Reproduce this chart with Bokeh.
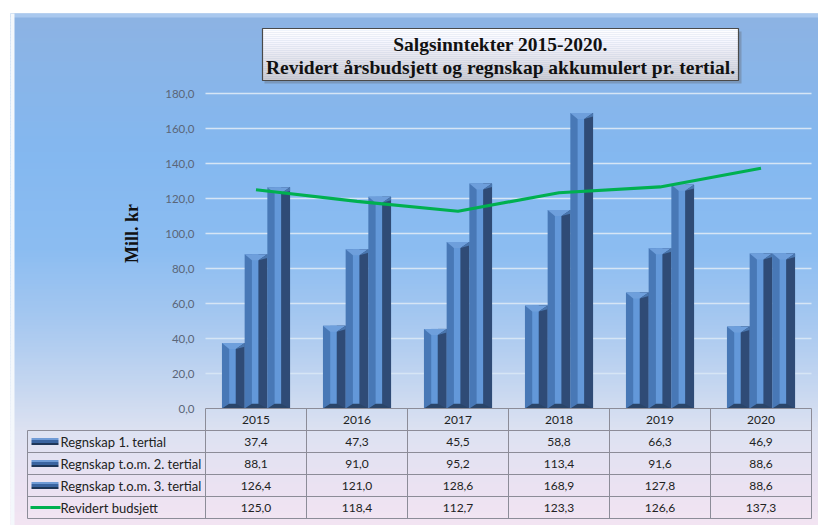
import numpy as np
from bokeh.plotting import figure
from bokeh.models import Range1d
from bokeh.core.properties import value
from bokeh.embed import file_html
from bokeh.resources import INLINE

# ---------------- data ----------------
years = ["2015", "2016", "2017", "2018", "2019", "2020"]
regnskap_t1 = [37.4, 47.3, 45.5, 58.8, 66.3, 46.9]
regnskap_t2 = [88.1, 91.0, 95.2, 113.4, 91.6, 88.6]
regnskap_t3 = [126.4, 121.0, 128.6, 168.9, 127.8, 88.6]
revidert_budsjett = [125.0, 118.4, 112.7, 123.3, 126.6, 137.3]
series_names = ["Regnskap 1. tertial", "Regnskap t.o.m. 2. tertial",
                "Regnskap t.o.m. 3. tertial", "Revidert budsjett"]
y_ticks = [0, 20, 40, 60, 80, 100, 120, 140, 160, 180]
title_lines = ["Salgsinntekter 2015-2020.",
               "Revidert årsbudsjett og regnskap akkumulert pr. tertial."]
y_label = "Mill. kr"

# ---------------- layout helpers (canvas px -> data) ----------------
W, H = 818, 525
COL = 101.0     # px per category column
X0PX = 205      # canvas px of first column's left edge
PXU = 1.75      # px per y unit
Y0PX = 408      # canvas px of y = 0


def X(px):
    return (px - X0PX) / COL


def Y(py):
    return (Y0PX - py) / PXU


def fmt(v):
    return f"{v:.1f}".replace(".", ",")


n = len(years)
RH = 22.0 / PXU          # table row height in y units

p = figure(width=W, height=H, x_range=Range1d(X(0), X(W)),
           y_range=Range1d(Y(H), Y(0)), toolbar_location=None,
           output_backend="svg", min_border=0,
           x_axis_location=None, y_axis_location=None)
p.grid.visible = False
p.outline_line_color = None
p.background_fill_color = "white"
p.border_fill_color = "white"

# ---------------- background gradient ----------------
stops_y = [13, 60, 150, 250, 320, 390, 430, 480, 525]
stops_c = [(141, 179, 227), (138, 181, 232), (132, 184, 240), (140, 189, 242),
           (166, 200, 240), (200, 216, 240), (221, 226, 242), (234, 226, 242),
           (243, 229, 243)]
edges = np.arange(13, 527, 3)
bt, bb, bc = [], [], []
for a, b in zip(edges[:-1], edges[1:]):
    m = (a + b) / 2
    rgb = [int(np.interp(m, stops_y, [c[k] for c in stops_c])) for k in range(3)]
    bt.append(Y(a))
    bb.append(Y(b + 0.6))
    bc.append("#%02x%02x%02x" % tuple(rgb))
p.quad(left=X(10), right=X(W + 2), top=bt, bottom=bb, fill_color=bc, line_color=None)
# bevel edges of chart frame
p.quad(left=X(10), right=X(W + 2), top=Y(13), bottom=Y(17), fill_color="#a9c8ee", line_color=None)
p.quad(left=X(10), right=X(14), top=Y(13), bottom=Y(H), fill_color="#f4f8fc", line_color=None)

# ---------------- gridlines ----------------
grid_ticks = [t for t in y_ticks if t > 0]
p.segment(x0=0, x1=n, y0=grid_ticks, y1=grid_ticks, line_color="#d6e5f5", line_width=1.6)

# ---------------- y tick labels + axis title ----------------
p.text(x=X(194), y=y_ticks, text=[fmt(t) for t in y_ticks], text_align="right",
       text_baseline="middle", text_font=value("Lato"), text_font_size=value("11.5px"),
       text_color="#5a6678")
p.text(x=X(131), y=Y(233), text=[y_label], angle=np.pi / 2, text_align="center",
       text_baseline="middle", text_font=value("Liberation Serif"),
       text_font_size=value("18px"), text_font_style="bold", text_color="#111111")

# ---------------- 3D bars ----------------
BW = 22.7 / COL
D = 6 / PXU
for k, vals in enumerate([regnskap_t1, regnskap_t2, regnskap_t3]):
    xc = [i + 0.5 + (k - 1) * BW for i in range(n)]
    x0 = [c - BW / 2 for c in xc]
    p.vbar(x=xc, top=vals, bottom=0, width=BW, fill_color="#4878b6", line_color=None)
    p.vbar(x=[a + 0.465 * BW for a in x0], top=vals, bottom=0, width=0.29 * BW,
           fill_color="#6398d9", line_color=None)
    p.vbar(x=[a + 0.805 * BW for a in x0], top=vals, bottom=0, width=0.39 * BW,
           fill_color="#2f4b76", line_color=None)
    # top bevel
    xs_top = [[a, a + BW, a + 0.61 * BW, a + 0.32 * BW] for a in x0]
    ys_top = [[v, v, v - D, v - D] for v in vals]
    p.patches(xs=xs_top, ys=ys_top, fill_color="#6e9fdc", line_color=None)
    xs_r = [[a + BW, a + BW, a + 0.61 * BW] for a in x0]
    ys_r = [[v, v - D * 0.6, v - D] for v in vals]
    p.patches(xs=xs_r, ys=ys_r, fill_color="#4a77b0", line_color=None)
    # bottom base
    xs_b = [[a, a + BW, a + 0.61 * BW, a + 0.32 * BW] for a in x0]
    ys_b = [[0, 0, D * 0.8, D * 0.8] for _ in vals]
    p.patches(xs=xs_b, ys=ys_b, fill_color="#2a4569", line_color=None)

# ---------------- budget line ----------------
p.line(x=[i + 0.5 for i in range(n)], y=revidert_budsjett, line_color="#00b050",
       line_width=3.2)

# ---------------- title box ----------------
tb_l, tb_r, tb_t, tb_b = X(262), X(738), Y(28), Y(80)
p.quad(left=X(264), right=X(741), top=Y(31), bottom=Y(83), fill_color="#6f7f98",
       fill_alpha=0.55, line_color=None)
tedges = np.linspace(28, 80, 27)
tt, tbm, tc = [], [], []
for a, b in zip(tedges[:-1], tedges[1:]):
    f = ((a + b) / 2 - 28) / 52
    g = int(255 - 52 * f ** 1.3)
    tt.append(Y(a))
    tbm.append(Y(b + 0.3))
    tc.append("#%02x%02x%02x" % (g, g, min(255, g + 8)))
p.quad(left=tb_l, right=tb_r, top=tt, bottom=tbm, fill_color=tc, line_color=None)
p.quad(left=tb_l, right=tb_r, top=tb_t, bottom=tb_b, fill_color=None,
       line_color="#4a4a4a", line_width=1.2)
p.text(x=X(500), y=[Y(44), Y(67)], text=title_lines, text_align="center",
       text_baseline="middle", text_font=value("Liberation Serif"),
       text_font_size=value("19.5px"), text_font_style="bold", text_color="#111111")

# ---------------- data table ----------------
XL = X(27)
rows_y = [-(r * RH) for r in range(6)]
hx0 = [0] + [XL] * 5
p.segment(x0=hx0, x1=n, y0=rows_y, y1=rows_y, line_color="#8c8c98", line_width=1)
p.segment(x0=list(range(n + 1)), x1=list(range(n + 1)), y0=0, y1=-5 * RH,
          line_color="#8c8c98", line_width=1)
p.segment(x0=XL, x1=XL, y0=-RH, y1=-5 * RH, line_color="#8c8c98", line_width=1)

col_c = [i + 0.5 for i in range(n)]
p.text(x=col_c, y=-0.5 * RH, text=years, text_align="center", text_baseline="middle",
       text_font=value("Lato"), text_font_size=value("12px"), text_color="#222222")
for r, vals in enumerate([regnskap_t1, regnskap_t2, regnskap_t3, revidert_budsjett]):
    yc = -(r + 1.5) * RH
    p.text(x=col_c, y=yc, text=[fmt(v) for v in vals], text_align="center",
           text_baseline="middle", text_font=value("Lato"),
           text_font_size=value("12px"), text_color="#222222")

# legend column
leg_y = [-(r + 1.5) * RH for r in range(4)]
p.text(x=X(60), y=leg_y, text=series_names, text_align="left", text_baseline="middle",
       text_font=value("Lato"), text_font_size=value("13px"), text_color="#222222")
ih = 1 / PXU
for r in range(3):
    yc = leg_y[r]
    p.quad(left=X(31), right=X(58), top=yc + 3.5 * ih, bottom=yc + 1.5 * ih,
           fill_color="#6f9bd6", line_color=None)
    p.quad(left=X(31), right=X(58), top=yc + 1.5 * ih, bottom=yc - 1.5 * ih,
           fill_color="#3a64a0", line_color=None)
    p.quad(left=X(31), right=X(58), top=yc - 1.5 * ih, bottom=yc - 3.5 * ih,
           fill_color="#1e3658", line_color=None)
p.segment(x0=X(30), x1=X(60), y0=leg_y[3], y1=leg_y[3], line_color="#00b050",
          line_width=3)

open("out.html", "w").write(file_html(p, INLINE))
